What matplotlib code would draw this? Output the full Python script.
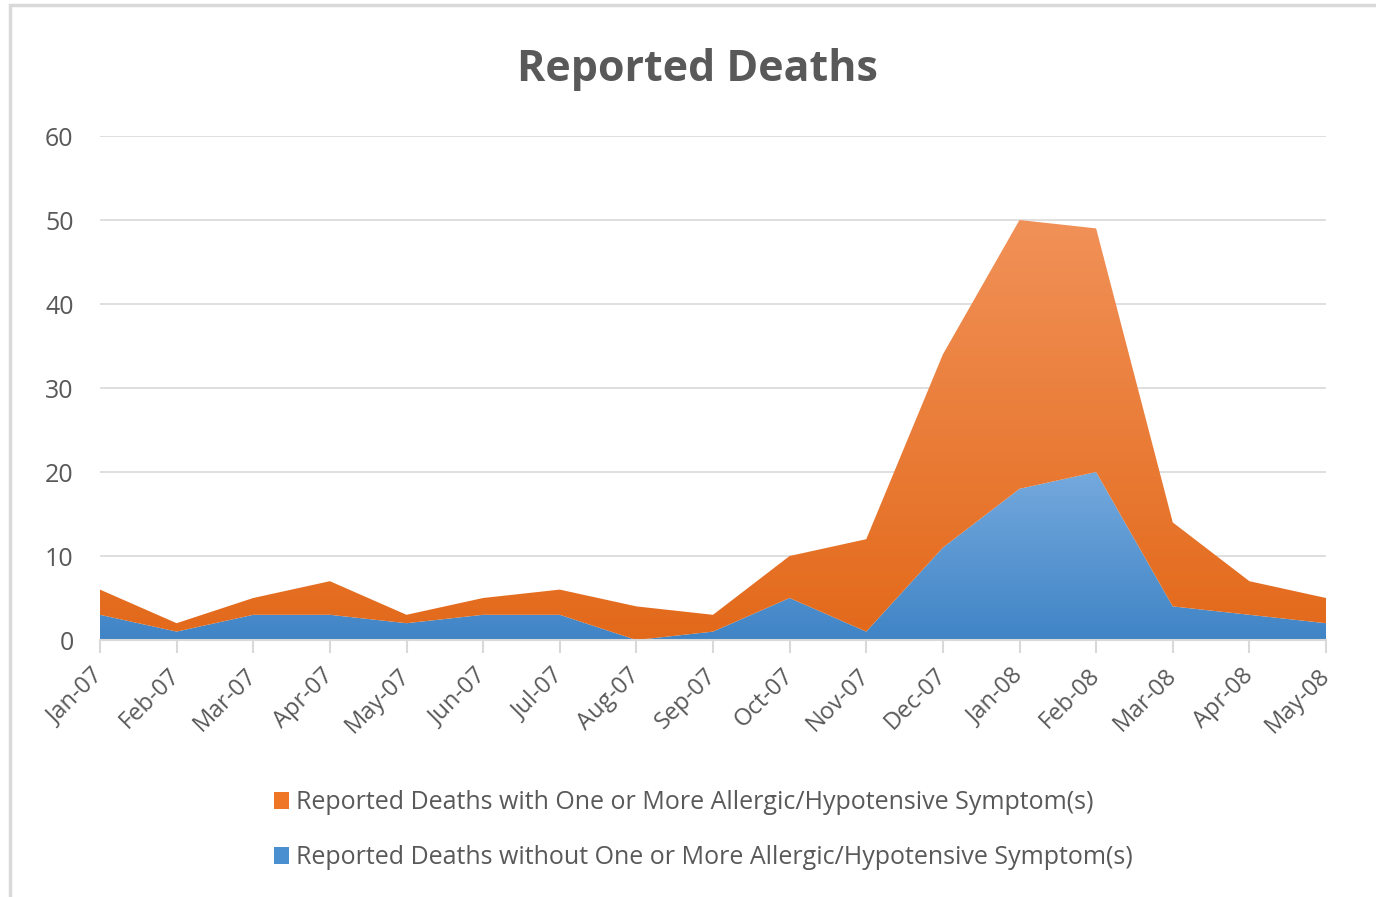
import matplotlib.pyplot as plt
import numpy as np
from matplotlib.patches import Rectangle, Patch, Polygon
from matplotlib.colors import LinearSegmentedColormap

months = ['Jan-07', 'Feb-07', 'Mar-07', 'Apr-07', 'May-07', 'Jun-07', 'Jul-07',
          'Aug-07', 'Sep-07', 'Oct-07', 'Nov-07', 'Dec-07', 'Jan-08', 'Feb-08',
          'Mar-08', 'Apr-08', 'May-08']
deaths_without = [3, 1, 3, 3, 2, 3, 3, 0, 1, 5, 1, 11, 18, 20, 4, 3, 2]
deaths_with = [3, 1, 2, 4, 1, 2, 3, 4, 2, 5, 11, 23, 32, 29, 10, 4, 3]

label_with = 'Reported Deaths with One or More Allergic/Hypotensive Symptom(s)'
label_without = 'Reported Deaths without One or More Allergic/Hypotensive Symptom(s)'

plt.rcParams['font.family'] = ['Open Sans', 'DejaVu Sans']
gray_txt = '#595959'


def gradient_fill(ax, x, lower, upper, c_top, c_bot):
    # polygon of the band in data coords, used as clip for a gradient image
    verts = np.vstack([np.column_stack([x, upper]),
                       np.column_stack([x[::-1], lower[::-1]])])
    clip = Polygon(verts, closed=True, facecolor='none', edgecolor='none',
                   transform=ax.transData)
    ax.add_patch(clip)
    top = max(upper)
    cmap = LinearSegmentedColormap.from_list('g', [c_bot, c_top])
    grad = np.linspace(0, 1, 256).reshape(-1, 1)
    im = ax.imshow(grad, cmap=cmap, origin='lower', aspect='auto',
                   extent=[x[0], x[-1], 0, top], zorder=2)
    im.set_clip_path(clip)


fig = plt.figure(figsize=(13.76, 8.97), dpi=100)
fig.patches.append(Rectangle((10 / 1376, -0.1), 1.2, 1 - 5 / 897 + 0.1,
                             transform=fig.transFigure, fill=False,
                             edgecolor='#D9D9D9', lw=2.5))

ax = fig.add_axes([100 / 1376, 257 / 897, 1226 / 1376, 504 / 897])

x = np.arange(len(months))
blue = np.array(deaths_without)
total = blue + np.array(deaths_with)

gradient_fill(ax, x, np.zeros(len(x)), blue, '#74A9DD', '#4084C6')
gradient_fill(ax, x, blue, total, '#F19158', '#E3691A')

ax.set_xlim(0, len(months) - 1)
ax.set_ylim(0, 60)
ax.set_yticks(range(0, 61, 10))
ax.set_xticks(x)
ax.set_xticklabels(months, rotation=45, ha='right', va='center',
                   rotation_mode='anchor')

ax.grid(axis='y', color='#D9D9D9', lw=1.2)
ax.set_axisbelow(True)
for s in ['top', 'right', 'left']:
    ax.spines[s].set_visible(False)
ax.spines['bottom'].set_color('#D9D9D9')
ax.spines['bottom'].set_linewidth(1.5)
ax.spines['bottom'].set_zorder(5)
ax.tick_params(axis='x', colors='#D9D9D9', length=9, width=1.5, pad=14,
               labelcolor=gray_txt, labelsize=17)
ax.tick_params(axis='y', length=0, pad=19, labelcolor=gray_txt, labelsize=18)

fig.text(0.507, 0.923, 'Reported Deaths', ha='center', va='center',
         fontsize=31, fontweight='bold', color=gray_txt)

handles = [Patch(facecolor='#EE7624', label=label_with),
           Patch(facecolor='#4A8FD0', label=label_without)]
fig.legend(handles=handles, loc='upper center', bbox_to_anchor=(0.511, 0.144),
           frameon=False, fontsize=18, labelcolor=gray_txt, handlelength=0.6,
           handleheight=0.7, handletextpad=0.3, labelspacing=1.2)

fig.savefig('out.png', dpi=100)
